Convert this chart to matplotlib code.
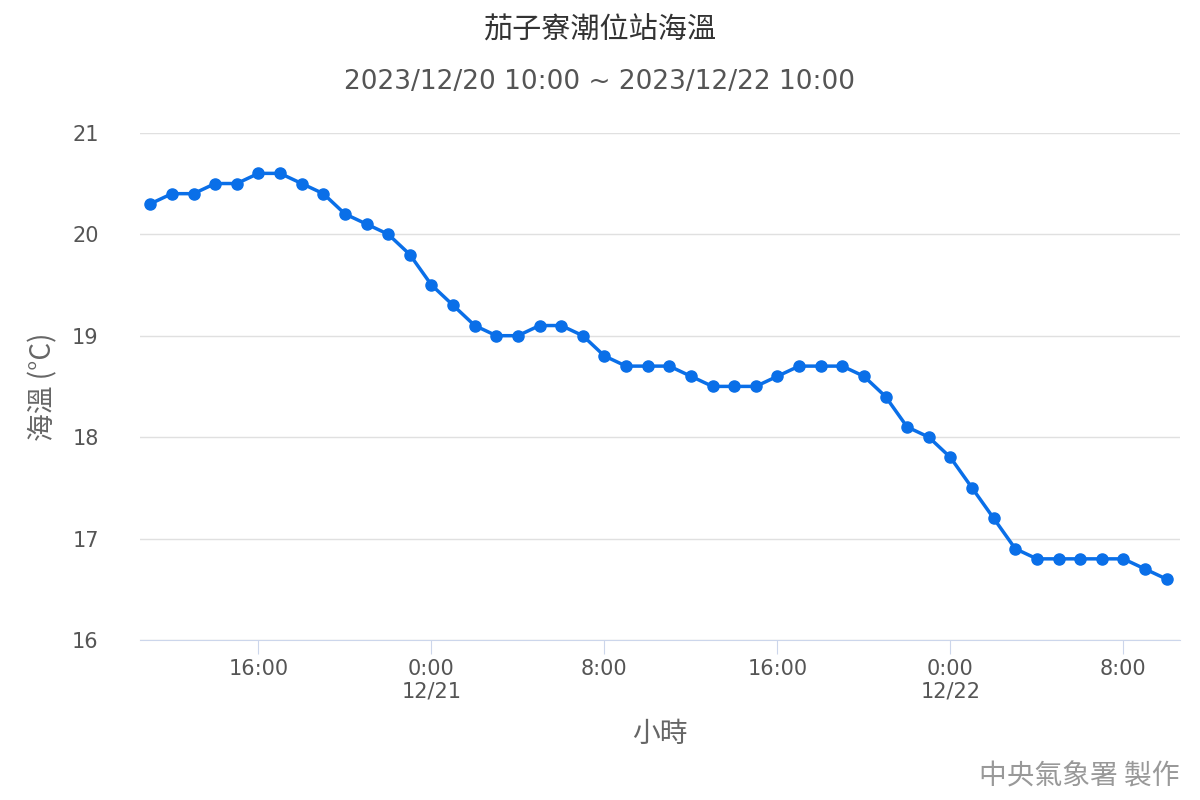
import matplotlib
matplotlib.use("Agg")
import matplotlib.pyplot as plt
import numpy as np

plt.rcParams['font.family'] = ['DejaVu Sans', 'Noto Sans CJK TC']

start_hour = 11  # 2023/12/20 11:00, hours from 12/20 0:00
temps = [20.3, 20.4, 20.4, 20.5, 20.5, 20.6, 20.6, 20.5, 20.4, 20.2, 20.1, 20.0, 19.8,
         19.5, 19.3, 19.1, 19.0, 19.0, 19.1, 19.1, 19.0, 18.8, 18.7, 18.7, 18.7, 18.6,
         18.5, 18.5, 18.5, 18.6, 18.7, 18.7, 18.7, 18.6, 18.4, 18.1, 18.0,
         17.8, 17.5, 17.2, 16.9, 16.8, 16.8, 16.8, 16.8, 16.8, 16.7, 16.6]
hours = np.arange(start_hour, start_hour + len(temps))
tick_hours = [16, 24, 32, 40, 48, 56]
tick_labels = ['16:00', '0:00\n12/21', '8:00', '16:00', '0:00\n12/22', '8:00']
y_ticks = [16, 17, 18, 19, 20, 21]

cjk = ['Noto Sans CJK TC', 'DejaVu Sans']

fig = plt.figure(figsize=(12, 8), dpi=100)
ax = fig.add_axes([0.117, 0.2, 0.866, 0.634])
ax.plot(hours, temps, color='#0a6fe8', lw=2.5, marker='o', ms=8, zorder=3)
ax.set_xlim(10.54, 58.6)
ax.set_ylim(16, 21)
ax.set_yticks(y_ticks)
ax.set_xticks(tick_hours)
ax.set_xticklabels(tick_labels)
ax.grid(axis='y', color='#e0e0e0', lw=1)
for s in ['top', 'right', 'left']:
    ax.spines[s].set_visible(False)
ax.spines['bottom'].set_color('#ccd6eb')
ax.tick_params(axis='y', length=0, labelsize=15, labelcolor='#555555', pad=30)
ax.tick_params(axis='x', length=10, color='#ccd6eb', labelsize=15, labelcolor='#555555')
ax.set_ylabel('海溫 (°C)', fontsize=20, color='#666666', labelpad=10, family=cjk)
ax.set_xlabel('小時', fontsize=20, color='#666666', labelpad=12, family=cjk)
fig.text(0.5, 0.962, '茄子寮潮位站海溫', ha='center', va='center', fontsize=21, color='#333333', family=cjk)
fig.text(0.5, 0.897, '2023/12/20 10:00 ~ 2023/12/22 10:00', ha='center', va='center', fontsize=19, color='#555555')
fig.text(0.983, 0.03, '中央氣象署 製作', ha='right', va='center', fontsize=20, color='#999999', family=cjk)
fig.savefig('out.png')
